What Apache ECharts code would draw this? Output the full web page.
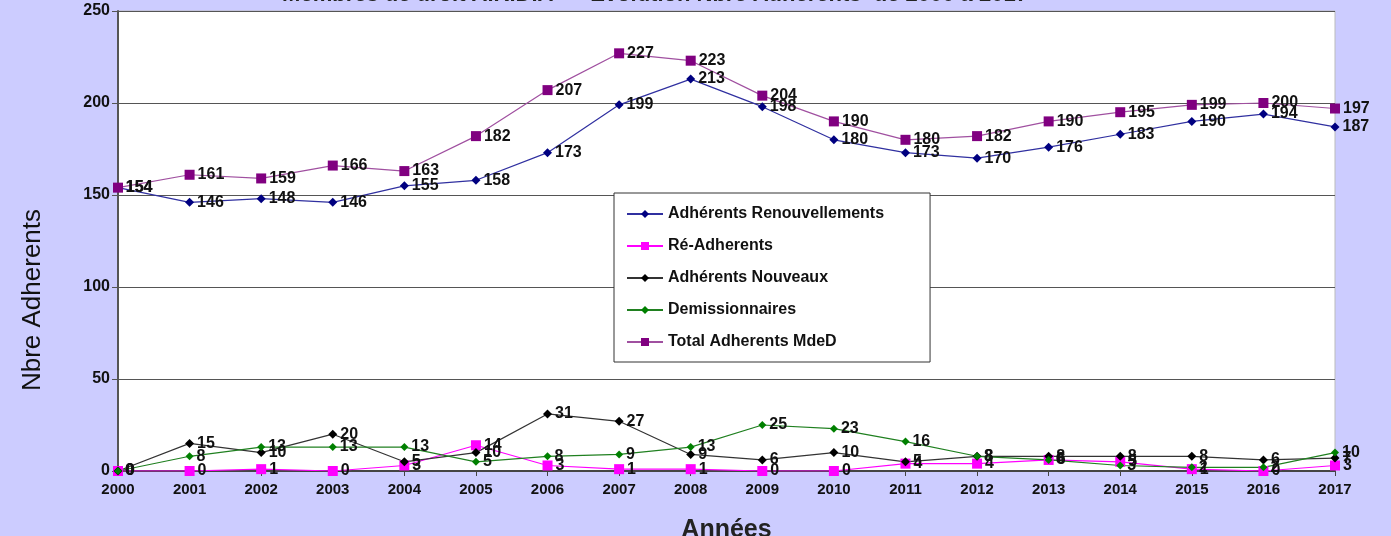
<!DOCTYPE html>
<html><head><meta charset="utf-8">
<script src="https://cdn.jsdelivr.net/npm/echarts@6/dist/echarts.min.js"></script>
<style>html,body{margin:0;padding:0;background:#ccccff;}#c{width:1391px;height:536px;}</style>
</head><body><div id="c"></div>
<script>
var years = ['2000','2001','2002','2003','2004','2005','2006','2007','2008','2009','2010','2011','2012','2013','2014','2015','2016','2017'];
var renouvellements = [154,146,148,146,155,158,173,199,213,198,180,173,170,176,183,190,194,187];
var reAdherents = [0,0,1,0,3,14,3,1,1,0,0,4,4,6,5,1,0,3];
var nouveaux = [0,15,10,20,5,10,31,27,9,6,10,5,8,8,8,8,6,7];
var demissionnaires = [0,8,13,13,13,5,8,9,13,25,23,16,8,6,3,2,2,10];
var total = [154,161,159,166,163,182,207,227,223,204,190,180,182,190,195,199,200,197];
var yTicks = [0,50,100,150,200,250];

var lbl = {show:true, position:'right', distance:3, color:'#111', fontFamily:'Liberation Sans, Arial', fontWeight:'bold', fontSize:16};
function mk(name, data, color, lineColor, symbol, size){
  return {name:name, type:'line', data:data, symbol:symbol, symbolSize:size,
    itemStyle:{color:color}, lineStyle:{color:lineColor, width:1.2}, label:lbl, z:2};
}
var chart = echarts.init(document.getElementById('c'));
chart.setOption({
  backgroundColor:'#ccccff',
  animation:false,
  title:{text:'Membres de droit A.R.D.A  –  Evolution Nbre Adherents  de 2000 à 2017', left:650, textAlign:'center', top:-21,
    textStyle:{fontFamily:'Liberation Sans, Arial', fontWeight:'bold', fontSize:22, color:'#222'}},
  graphic:[{type:'text', x:33, y:300, rotation:Math.PI/2,
    style:{text:'Nbre Adherents', align:'center', verticalAlign:'middle', fill:'#111',
      font:'26px "Liberation Sans Narrow", "Liberation Sans", Arial'}}],
  grid:{left:118, right:56, top:11, bottom:65, outerBoundsMode:'none', containLabel:false, show:true, backgroundColor:'#ffffff', borderColor:'#bbbbbb', borderWidth:1},
  legend:{orient:'vertical', left:614, top:193, backgroundColor:'#ffffff', borderColor:'#333', borderWidth:1,
    padding:[13,46,12,12], itemGap:16, itemWidth:36, itemHeight:10,
    textStyle:{fontFamily:'Liberation Sans, Arial', fontWeight:'bold', fontSize:16, color:'#111'}},
  xAxis:{type:'category', data:years, boundaryGap:false, name:'Années', nameLocation:'middle', nameGap:47,
    nameTextStyle:{fontFamily:'Liberation Sans, Arial', fontWeight:'bold', fontSize:25, color:'#222'},
    axisLine:{lineStyle:{color:'#444', width:2}}, axisTick:{show:true, length:5, lineStyle:{color:'#444'}},
    axisLabel:{fontFamily:'Liberation Sans, Arial', fontWeight:'bold', fontSize:15, color:'#111', margin:11}},
  yAxis:{type:'value', min:0, max:250, interval:50,
    axisLine:{show:true, lineStyle:{color:'#555', width:2}}, axisTick:{show:true, length:6, lineStyle:{color:'#555'}},
    splitLine:{lineStyle:{color:'#555', width:1.2}},
    axisLabel:{fontFamily:'Liberation Sans, Arial', fontWeight:'bold', fontSize:16, color:'#111', margin:8,
      formatter:function(v){return yTicks.indexOf(v)>=0?String(v):'';}}},
  series:[
    mk('Adhérents Renouvellements', renouvellements, '#000080', '#3030a0', 'diamond', 9),
    mk('Ré-Adherents', reAdherents, '#ff00ff', '#ff00ff', 'rect', 10),
    mk('Adhérents Nouveaux', nouveaux, '#000000', '#333333', 'diamond', 9),
    mk('Demissionnaires', demissionnaires, '#008000', '#208020', 'diamond', 8),
    mk('Total Adherents MdeD', total, '#800080', '#a050a0', 'rect', 10)
  ]
});
</script></body></html>
